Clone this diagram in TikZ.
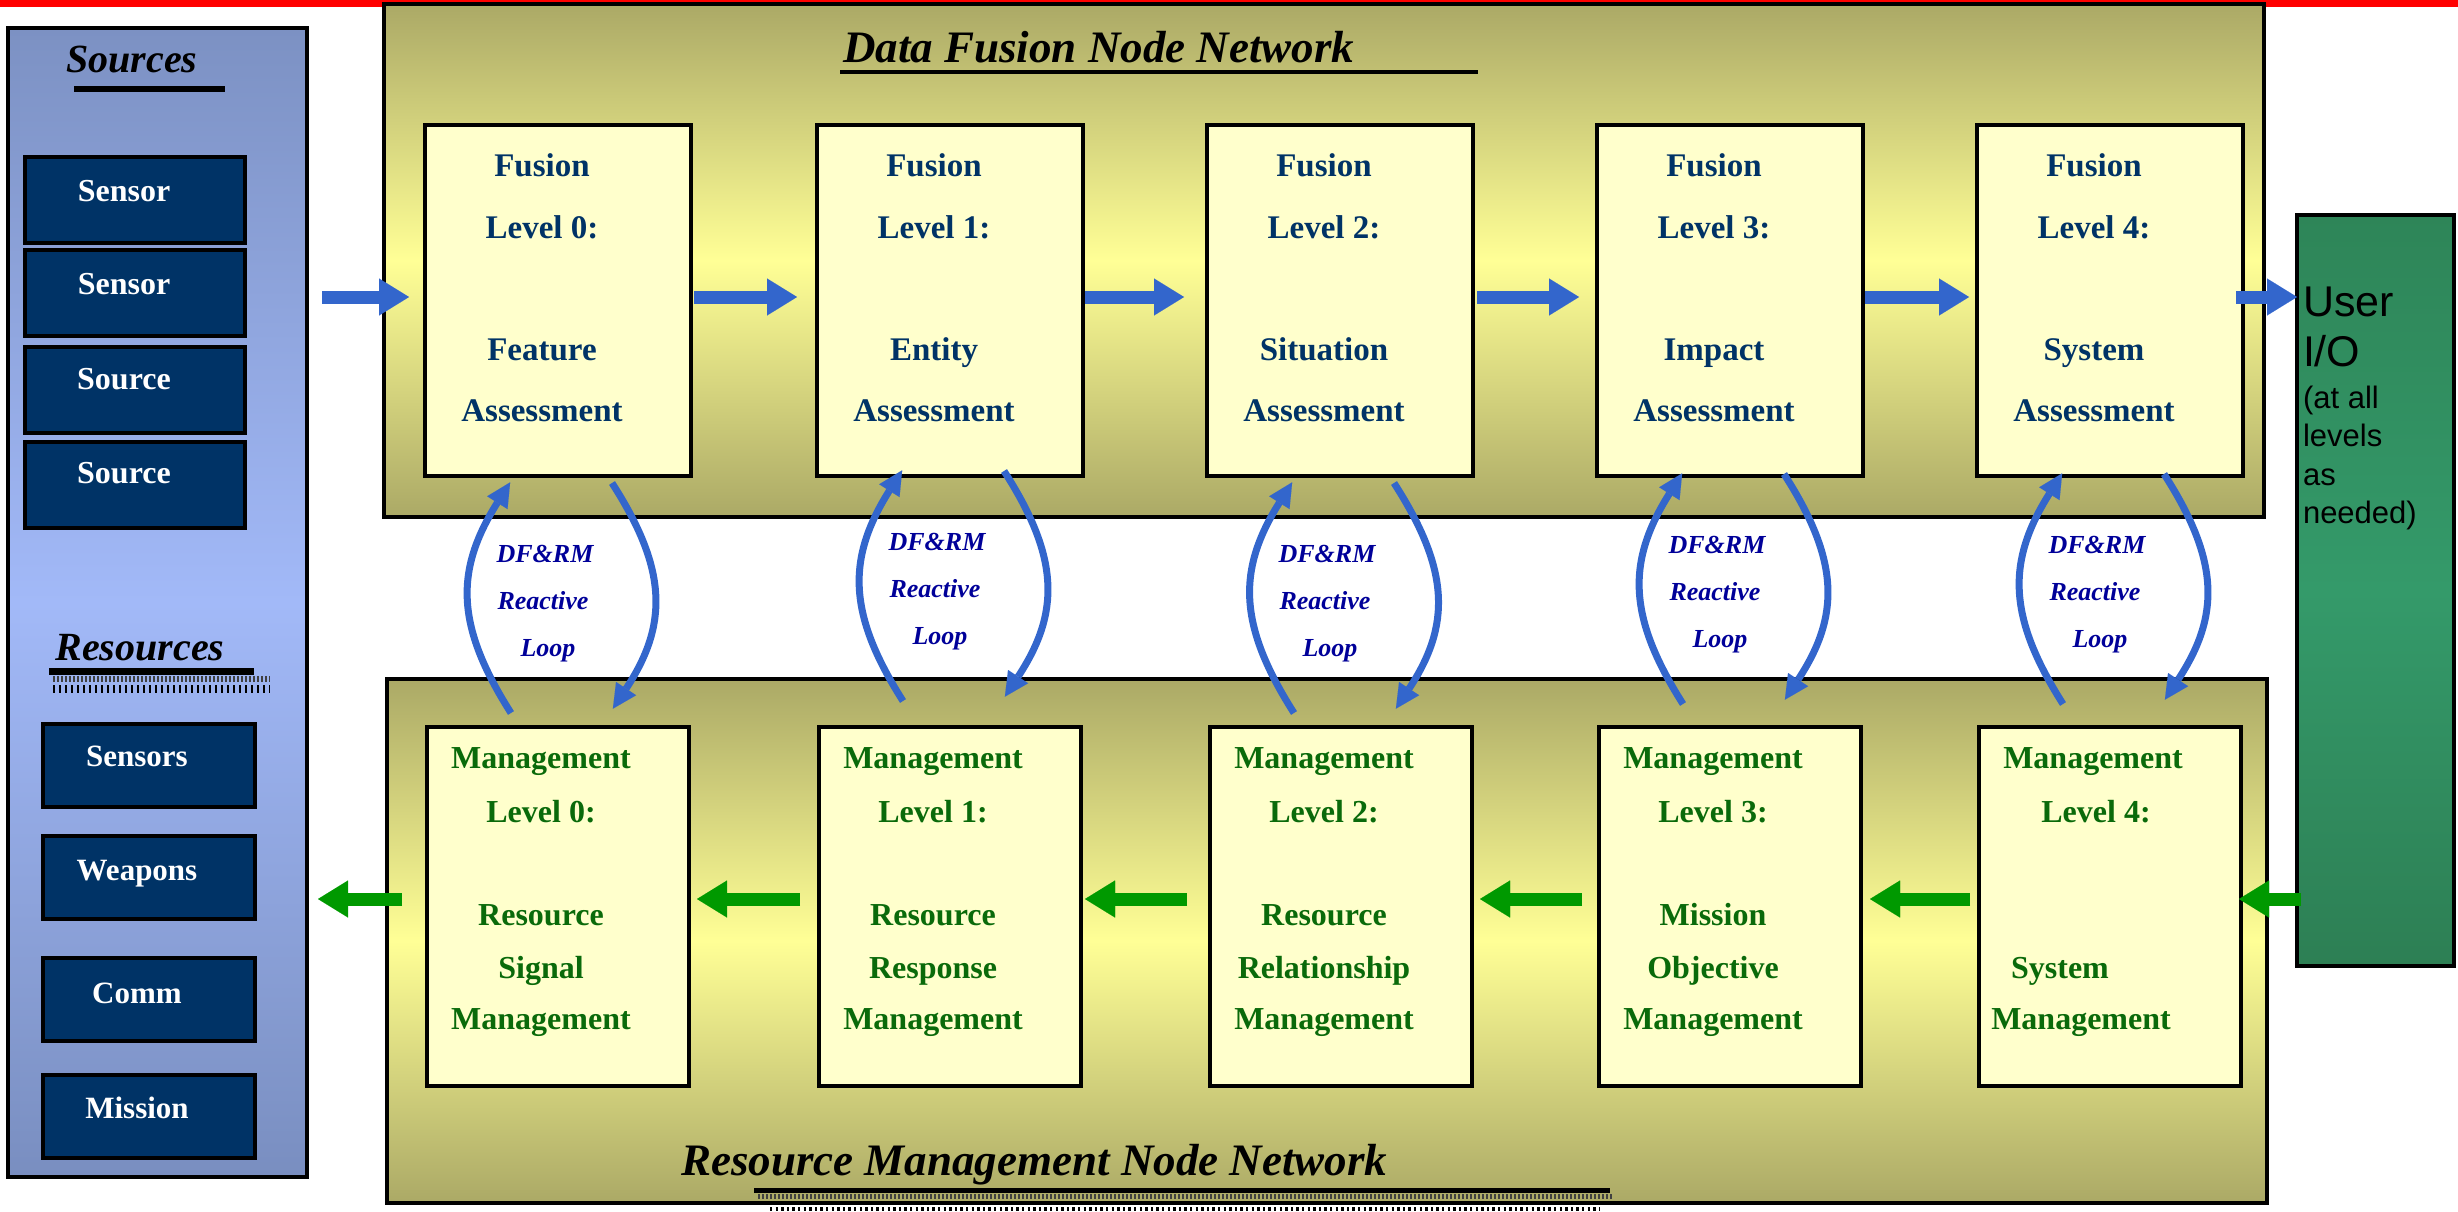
\documentclass[tikz,border=0pt]{standalone}
\usepackage{fontspec}
\setmainfont{Liberation Serif}
\newfontfamily\uisans{Liberation Sans}
\usetikzlibrary{arrows.meta}

\definecolor{topred}{RGB}{255,0,0}
\definecolor{srctop}{RGB}{124,145,195}
\definecolor{srcmid}{RGB}{162,185,248}
\definecolor{srcbot}{RGB}{121,142,192}
\definecolor{olive}{RGB}{171,169,102}
\definecolor{glow}{RGB}{255,255,150}
\definecolor{cream}{RGB}{255,255,204}
\definecolor{navy}{RGB}{0,51,102}
\definecolor{fustext}{RGB}{0,51,102}
\definecolor{mgttext}{RGB}{10,106,10}
\definecolor{looptext}{RGB}{0,0,153}
\definecolor{flowblue}{RGB}{51,102,204}
\definecolor{flowgreen}{RGB}{0,153,0}
\definecolor{usrtop}{RGB}{46,133,88}
\definecolor{usrmid}{RGB}{52,154,106}
\definecolor{usrbot}{RGB}{45,127,84}

\begin{document}
\begin{tikzpicture}[x=0.5pt, y=-0.5pt,
  frame/.style={draw=black, line width=2pt, inner sep=0pt, outer sep=0pt},
  netbox/.style={frame, top color=olive, bottom color=olive, middle color=glow, minimum width=940pt},
  lvlbox/.style={frame, fill=cream, minimum width=133pt},
  assetbox/.style={frame, fill=navy},
  txt/.style={inner sep=0pt, outer sep=0pt, anchor=base},
  fustxt/.style={txt, text=fustext, font=\fontsize{16.5pt}{19pt}\selectfont\bfseries},
  mgttxt/.style={txt, text=mgttext, font=\fontsize{16pt}{19pt}\selectfont\bfseries},
  assettxt/.style={txt, text=white, font=\fontsize{16pt}{19pt}\selectfont\bfseries},
  looptxt/.style={txt, text=looptext, font=\fontsize{13pt}{15pt}\selectfont\bfseries\itshape},
  headtxt/.style={txt, font=\fontsize{20pt}{24pt}\selectfont\bfseries\itshape},
  nettxt/.style={txt, anchor=base west, font=\fontsize{22.5pt}{27pt}\selectfont\bfseries\itshape},
  usrtxt/.style={txt, anchor=base west, font=\uisans\fontsize{21.5pt}{25pt}\selectfont},
  usrnote/.style={txt, anchor=base west, font=\uisans\fontsize{15.5pt}{19pt}\selectfont},
  blockarrow/.style={line width=6.5pt, -{Triangle[length=15pt, width=18.5pt, sep=1.5pt, line width=0.01pt]}},
  fuseflow/.style={blockarrow, draw=flowblue},
  mgtflow/.style={blockarrow, draw=flowgreen},
  loopflow/.style={draw=flowblue, line width=3.5pt, -{Triangle[length=12pt, width=12pt, sep=0.8pt, line width=0.01pt]}},
]
\useasboundingbox (0,0) rectangle (2458,1211);
\fill[topred] (0,0) rectangle (2458,7);

% ---- sources / resources column
\node[frame, top color=srctop, bottom color=srcbot, middle color=srcmid,
      minimum width=149.5pt, minimum height=574.5pt] (src) at (157.5,602.5) {};
\node[headtxt] (srchead) at (132,72) {Sources};
\fill (74,86) rectangle (225,92);
\foreach \n/\y/\ty/\t in {1/200/201/Sensor, 2/292.5/294/Sensor, 3/390/389/Source, 4/484.5/483/Source} {
  \node[assetbox, minimum width=110pt, minimum height=43pt] (in\n) at (135,\y) {};
  \node[assettxt] (int\n) at (124,\ty) {\t};
}

\node[headtxt] (reshead) at (140,660) {Resources};
\fill (49,668) rectangle (254,675);
\draw[black!75, line width=3pt, dash pattern=on 1pt off 1pt] (53,679) -- (270,679);
\draw[line width=4pt, dash pattern=on 1.2pt off 1.8pt] (53,689) -- (270,689);
\foreach \n/\y/\ty/\t in {1/765/766/Sensors, 2/877.5/880/Weapons, 3/999.5/1003/Comm, 4/1116.5/1118/Mission} {
  \node[assetbox, minimum width=106pt, minimum height=41.5pt] (out\n) at (149,\y) {};
  \node[assettxt, font=\fontsize{15.5pt}{19pt}\selectfont\bfseries] (outt\n) at (137,\ty) {\t};
}

% ---- node networks
\node[netbox, minimum height=256.5pt] (dfn) at (1324,260.5) {};
\node[nettxt] (dfhead) at (843,62) {Data Fusion Node Network};
\fill (840,70) rectangle (1478,74);

\node[netbox, minimum height=262pt] (rmn) at (1327,941) {};
\node[nettxt] (rmhead) at (681,1175) {Resource Management Node Network};
\fill (754,1188) rectangle (1610,1193);
\draw[black!75, line width=2.5pt, dash pattern=on 1pt off 1pt] (758,1196.5) -- (1612,1196.5);
\draw[line width=2pt, dash pattern=on 1.2pt off 1.6pt] (770,1209) -- (1600,1209);

% ---- fusion levels
\foreach \i/\c/\a in {0/558/Feature, 1/950/Entity, 2/1340/Situation, 3/1730/Impact, 4/2110/System} {
  \node[lvlbox, minimum height=175.5pt] (f\i) at (\c,300.5) {};
  \node[fustxt] (fa\i) at (\c-16,176) {Fusion};
  \node[fustxt] (fb\i) at (\c-16,238) {Level \i:};
  \node[fustxt] (fc\i) at (\c-16,360) {\a};
  \node[fustxt] (fd\i) at (\c-16,421) {Assessment};
}

% ---- management levels
\foreach \i/\c/\a/\b in {0/558/Resource/Signal, 1/950/Resource/Response, 2/1341/Resource/Relationship, 3/1730/Mission/Objective} {
  \node[lvlbox, minimum width=131pt, minimum height=179.5pt] (m\i) at (\c,906.5) {};
  \node[mgttxt] (ma\i) at (\c-17,768) {Management};
  \node[mgttxt] (mb\i) at (\c-17,822) {Level \i:};
  \node[mgttxt] (mc\i) at (\c-17,925) {\a};
  \node[mgttxt] (md\i) at (\c-17,978) {\b};
  \node[mgttxt] (me\i) at (\c-17,1029) {Management};
}
\node[lvlbox, minimum width=131pt, minimum height=179.5pt] (m4) at (2110,906.5) {};
\node[mgttxt] (ma4) at (2093,768) {Management};
\node[mgttxt] (mb4) at (2096,822) {Level 4:};
\node[mgttxt] (md4) at (2060,978) {System};
\node[mgttxt] (me4) at (2081,1029) {Management};

% ---- user interface
\node[frame, top color=usrtop, bottom color=usrbot, middle color=usrmid,
      minimum width=78.5pt, minimum height=375.5pt] (usr) at (2375.5,590.5) {};
\node[usrtxt] (usra) at (2303,316) {User};
\node[usrtxt] (usrb) at (2303,366) {I/O};
\node[usrnote] (usrc) at (2303,408) {(at all};
\node[usrnote] (usrd) at (2303,446) {levels};
\node[usrnote] (usre) at (2303,485) {as};
\node[usrnote] (usrf) at (2303,523) {needed)};

% ---- fusion flow (left to right)
\coordinate (frow) at (0,297);
\draw[fuseflow, shorten <=7.5pt, shorten >=6.5pt] (src.east |- frow) -- (f0.west |- frow);
\draw[fuseflow, shorten <=1.5pt, shorten >=8.5pt] (f0.east |- frow) -- (f1.west |- frow);
\draw[fuseflow, shorten <=1pt, shorten >=10pt] (f1.east |- frow) -- (f2.west |- frow);
\draw[fuseflow, shorten <=2pt, shorten >=7.5pt] (f2.east |- frow) -- (f3.west |- frow);
\draw[fuseflow, shorten <=1pt, shorten >=2.5pt] (f3.east |- frow) -- (f4.west |- frow);
\draw[fuseflow, shorten <=-3.5pt, shorten >=-1.5pt] (f4.east |- frow) -- (usr.west |- frow);

% ---- management flow (right to left)
\coordinate (mrow) at (0,899);
\draw[mgtflow, shorten <=-2pt, shorten >=-2.5pt] (usr.west |- mrow) -- (m4.east |- mrow);
\draw[mgtflow, shorten <=4.5pt, shorten >=3pt] (m4.west |- mrow) -- (m3.east |- mrow);
\draw[mgtflow, shorten <=8.5pt, shorten >=2.5pt] (m3.west |- mrow) -- (m2.east |- mrow);
\draw[mgtflow, shorten <=11.5pt, shorten >=0.5pt] (m2.west |- mrow) -- (m1.east |- mrow);
\draw[mgtflow, shorten <=9.5pt, shorten >=2.5pt] (m1.west |- mrow) -- (m0.east |- mrow);
\draw[mgtflow, shorten <=12.5pt, shorten >=4pt] (m0.west |- mrow) -- (src.east |- mrow);

% ---- reactive loops between matching levels
\foreach \i/\c/\dy in {0/558/0, 1/950/-12, 2/1340/0, 3/1730/-9, 4/2110/-9} {
  \draw[loopflow] ([xshift=-23.5pt, yshift={(14-(\dy))*0.5}]m\i.north)
     .. controls +(-56,-88) and +(-56,89) .. ([xshift=-23.5pt, yshift={-(5+(\dy))*0.5}]f\i.south);
  \draw[loopflow] ([xshift=27pt, yshift={-(7+(\dy))*0.5}]f\i.south)
     .. controls +(56,87) and +(56,-85) .. ([xshift=27pt, yshift={(17-(\dy))*0.5}]m\i.north);
  \node[looptxt] (la\i) at (\c-13,562+\dy) {DF\&RM};
  \node[looptxt] (lb\i) at (\c-15,609+\dy) {Reactive};
  \node[looptxt] (lc\i) at (\c-10,656+\dy) {Loop};
}
\end{tikzpicture}
\end{document}
